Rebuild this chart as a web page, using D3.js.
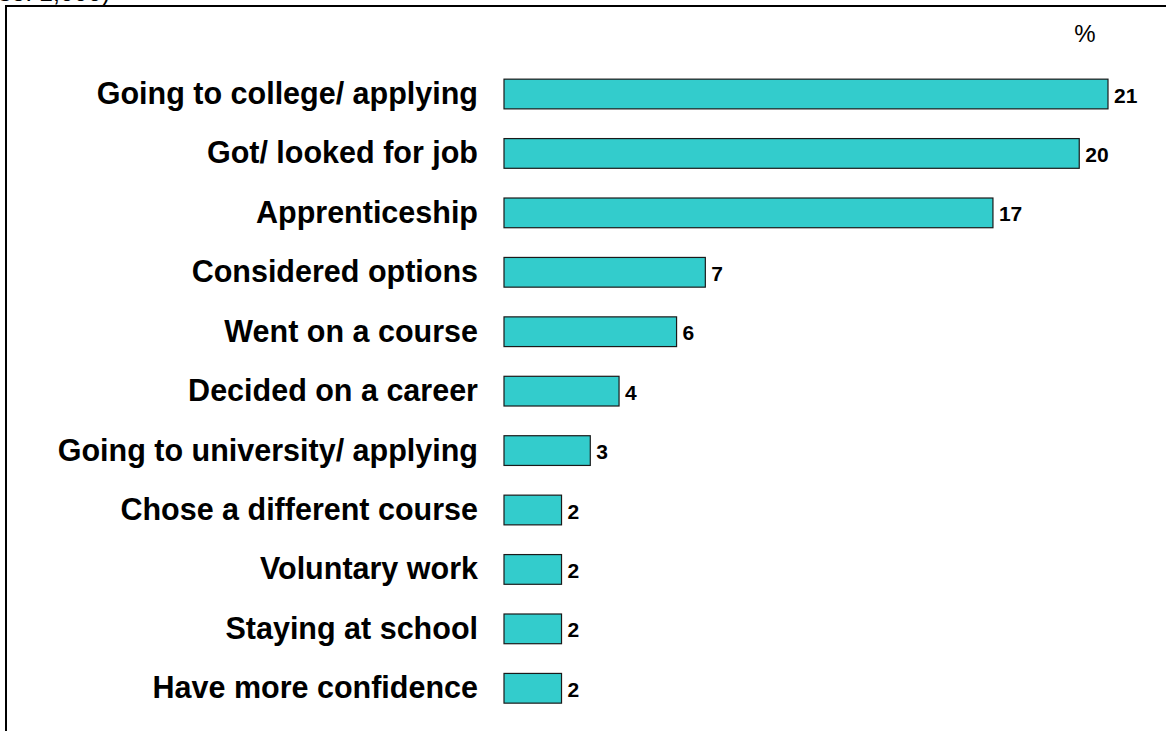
<!DOCTYPE html>
<html>
<head>
<meta charset="utf-8">
<script src="https://cdn.jsdelivr.net/npm/d3@7"></script>
<style>
  html, body { margin: 0; padding: 0; background: #fff; }
  svg { display: block; }
  text { font-family: Arial, "Liberation Sans", sans-serif; }
</style>
</head>
<body>
<svg id="chart" width="1166" height="731"></svg>
<script>
// Outcomes, in percent
const categories = [
  "Going to college/ applying",
  "Got/ looked for job",
  "Apprenticeship",
  "Considered options",
  "Went on a course",
  "Decided on a career",
  "Going to university/ applying",
  "Chose a different course",
  "Voluntary work",
  "Staying at school",
  "Have more confidence"
];
const values = [21, 20, 17, 7, 6, 4, 3, 2, 2, 2, 2];
const unitLabel = "%";
const baseNote = "(Base: 1,000)";

const svg = d3.select("#chart");
const W = 1166, H = 731;

// Frame lines (top and left)
svg.append("line").attr("x1", 5).attr("x2", W).attr("y1", 6).attr("y2", 6)
  .attr("stroke", "#000").attr("stroke-width", 2);
svg.append("line").attr("x1", 6).attr("x2", 6).attr("y1", 5).attr("y2", H)
  .attr("stroke", "#000").attr("stroke-width", 2);

// Base note sitting above the frame, mostly cut off
svg.append("text").attr("x", 110).attr("y", 1).attr("text-anchor", "end")
  .attr("font-size", 25).text(baseNote);

const x = d3.scaleLinear().domain([0, 21]).range([504, 1108]);
const y = d3.scaleBand().domain(categories).range([64.3, 718.0]).paddingInner(0.5).paddingOuter(0.25);

svg.append("text").attr("x", 1085).attr("y", 42).attr("text-anchor", "middle")
  .attr("font-size", 24).text(unitLabel);

const rows = svg.append("g").selectAll("g").data(categories).join("g");

rows.append("rect")
  .attr("x", x(0))
  .attr("y", d => y(d))
  .attr("width", (d, i) => x(values[i]) - x(0))
  .attr("height", y.bandwidth())
  .attr("fill", "#33CCCC")
  .attr("stroke", "#1a1a1a")
  .attr("stroke-width", 1.2);

rows.append("text")
  .attr("x", 478)
  .attr("y", d => y(d) + y.bandwidth() / 2 - 1)
  .attr("dy", "0.36em")
  .attr("text-anchor", "end")
  .attr("font-weight", "bold")
  .attr("font-size", 30.5)
  .text(d => d);

rows.append("text")
  .attr("x", (d, i) => x(values[i]) + 6)
  .attr("y", d => y(d) + y.bandwidth() / 2 + 1)
  .attr("dy", "0.36em")
  .attr("font-weight", "bold")
  .attr("font-size", 21)
  .text((d, i) => values[i]);
</script>
</body>
</html>
